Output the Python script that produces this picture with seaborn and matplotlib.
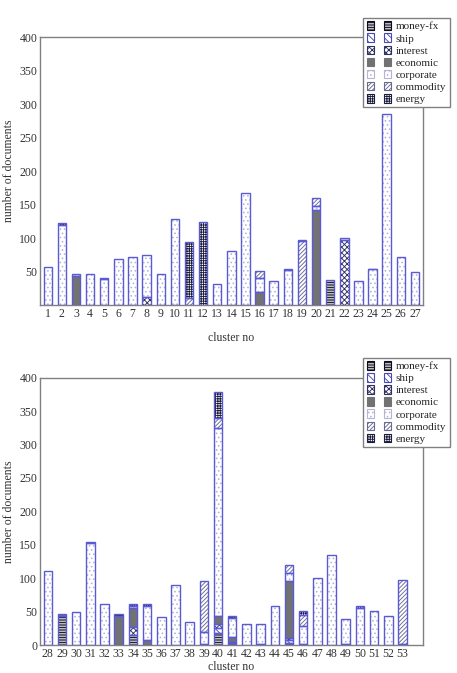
import numpy as np
import matplotlib
matplotlib.use("Agg")
import matplotlib.pyplot as plt
from matplotlib.patches import Patch, Rectangle
from matplotlib.legend_handler import HandlerTuple
import seaborn as sns

# 各 cluster 的文件數（依類別堆疊，由下往上）
clusters_top = list(range(1, 28))
money_fx_top = [0, 0, 0, 0, 0, 0, 0, 0, 0, 0, 0, 0, 0, 0, 0, 0, 0, 0, 0, 0, 38, 0, 0, 0, 0, 0, 0]
ship_top = [0] * 27
interest_top = [0, 0, 0, 0, 0, 0, 0, 12, 0, 0, 0, 0, 0, 0, 0, 0, 0, 0, 0, 0, 0, 97, 0, 0, 0, 0, 0]
economic_top = [0, 0, 44, 0, 0, 0, 0, 0, 0, 0, 0, 0, 0, 0, 0, 19, 0, 0, 0, 142, 0, 0, 0, 0, 0, 0, 0]
corporate_top = [56, 119, 3, 46, 39, 68, 72, 62, 47, 129, 0, 0, 32, 81, 167, 22, 36, 52, 0, 6, 0, 3, 36, 53, 285, 71, 50]
commodity_top = [0, 0, 0, 0, 0, 0, 0, 0, 0, 0, 11, 0, 0, 0, 0, 10, 0, 0, 95, 12, 0, 0, 0, 0, 0, 0, 0]
energy_top = [0, 3, 0, 0, 2, 0, 0, 0, 0, 0, 83, 124, 0, 0, 0, 0, 0, 2, 2, 0, 0, 0, 0, 1, 0, 0, 0]

clusters_bot = list(range(28, 54))
money_fx_bot = [0, 44, 0, 0, 0, 0, 15, 0, 0, 0, 0, 2, 18, 3, 0, 2, 0, 3, 2, 0, 0, 2, 0, 0, 0, 2]
ship_bot = [0, 0, 0, 0, 0, 0, 0, 0, 0, 0, 0, 0, 8, 2, 0, 0, 0, 4, 0, 0, 0, 0, 0, 0, 0, 0]
interest_bot = [0, 0, 0, 0, 0, 0, 12, 0, 0, 0, 0, 0, 5, 0, 0, 0, 0, 3, 0, 0, 0, 0, 0, 0, 0, 0]
economic_bot = [0, 2, 0, 0, 0, 44, 28, 7, 0, 0, 0, 0, 12, 7, 0, 0, 0, 86, 0, 0, 0, 0, 0, 0, 0, 0]
corporate_bot = [111, 0, 50, 152, 62, 0, 4, 52, 42, 90, 34, 18, 281, 29, 31, 29, 58, 12, 26, 100, 134, 37, 56, 51, 43, 0]
commodity_bot = [0, 0, 0, 0, 0, 0, 0, 0, 0, 0, 0, 76, 15, 0, 0, 0, 0, 11, 17, 0, 0, 0, 0, 0, 0, 95]
energy_bot = [0, 0, 0, 2, 0, 2, 2, 2, 0, 0, 0, 0, 40, 2, 0, 0, 0, 0, 6, 0, 0, 0, 2, 0, 0, 0]

categories = ["money-fx", "ship", "interest", "economic", "corporate", "commodity", "energy"]

# 每個類別的填色 / 花紋
STYLES = {
    "money-fx": dict(face="white", hatch="----------", hcolor="#0c0c1c"),
    "ship": dict(face="white", hatch="\\\\\\\\\\", hcolor="#4848b8"),
    "interest": dict(face="white", hatch="xxxxxx", hcolor="#303060"),
    "economic": dict(face="#727272", hatch=None, hcolor="#727272"),
    "corporate": dict(face="white", hatch="....", hcolor="#b4b4d4"),
    "commodity": dict(face="white", hatch="////////", hcolor="#6a6a90"),
    "energy": dict(face="white", hatch="+++++++", hcolor="#1c1c3c"),
}
OUTLINE = "#5a5ad6"

sns.set_theme(style="white")
plt.rcParams["font.family"] = ["Liberation Serif", "DejaVu Serif"]
plt.rcParams["hatch.linewidth"] = 0.65


def draw_panel(ax, clusters, layers, yticks, xlim, xpad):
    labels = [str(c) for c in clusters]
    bottom = np.zeros(len(clusters))
    segs = []
    for name, vals in zip(categories, layers):
        st = STYLES[name]
        n0 = len(ax.patches)
        sns.barplot(x=labels, y=vals, order=labels, width=0.6, errorbar=None,
                    color=st["face"], bottom=bottom.copy(), ax=ax)
        for p in ax.patches[n0:]:
            p.set_facecolor(st["face"])
            p.set_edgecolor(st["hcolor"])
            p.set_linewidth(0)
            if st["hatch"]:
                p.set_hatch(st["hatch"])
            if p.get_height() > 0:
                segs.append(p)
        bottom = bottom + np.array(vals)
    # 每一段外框
    for p in segs:
        ax.add_patch(Rectangle(p.get_xy(), p.get_width(), p.get_height(),
                               fill=False, edgecolor=OUTLINE, linewidth=1.0, zorder=3))
    ax.set_ylim(0, 400)
    ax.set_xlim(*xlim)
    ax.set_yticks(yticks)
    ax.tick_params(length=0, labelsize=8.5, colors="#333333", pad=2)
    ax.set_ylabel("number of documents", fontsize=8.5, color="#333333", labelpad=3)
    ax.set_xlabel("cluster no", fontsize=8.5, color="#333333", labelpad=xpad)
    for s in ax.spines.values():
        s.set_color("#808080")
        s.set_linewidth(1.0)


fig = plt.figure(figsize=(4.57, 6.73), dpi=100)
ax1 = fig.add_axes([0.0875, 0.5468, 0.8381, 0.3982])
ax2 = fig.add_axes([0.0875, 0.0416, 0.8381, 0.3972])

layers_top = [money_fx_top, ship_top, interest_top, economic_top,
              corporate_top, commodity_top, energy_top]
layers_bot = [money_fx_bot, ship_bot, interest_bot, economic_bot,
              corporate_bot, commodity_bot, energy_bot]

draw_panel(ax1, clusters_top, layers_top, range(50, 401, 50), (-0.55, 26.57), 9)
draw_panel(ax2, clusters_bot, layers_bot, range(0, 401, 50), (-0.55, 26.45), 1)


def make_handles():
    hs = []
    for name in categories:
        st = STYLES[name]
        pair = tuple(Patch(facecolor=st["face"], edgecolor=st["hcolor"], hatch=st["hatch"],
                           linewidth=0.8) for _ in range(2))
        hs.append(pair)
    return hs


for ytop in (18, 357.7):
    fig.legend(make_handles(), categories, loc="upper right",
               bbox_to_anchor=(449.5 / 457, 1 - ytop / 673),
               handler_map={tuple: HandlerTuple(ndivide=None, pad=0.9)},
               fontsize=8, frameon=True, fancybox=False, edgecolor="#808080",
               framealpha=1, borderpad=0.3, labelspacing=0.18, handlelength=2.2,
               handleheight=0.8, handletextpad=0.4, borderaxespad=0)

fig.savefig("out.png", dpi=100)
